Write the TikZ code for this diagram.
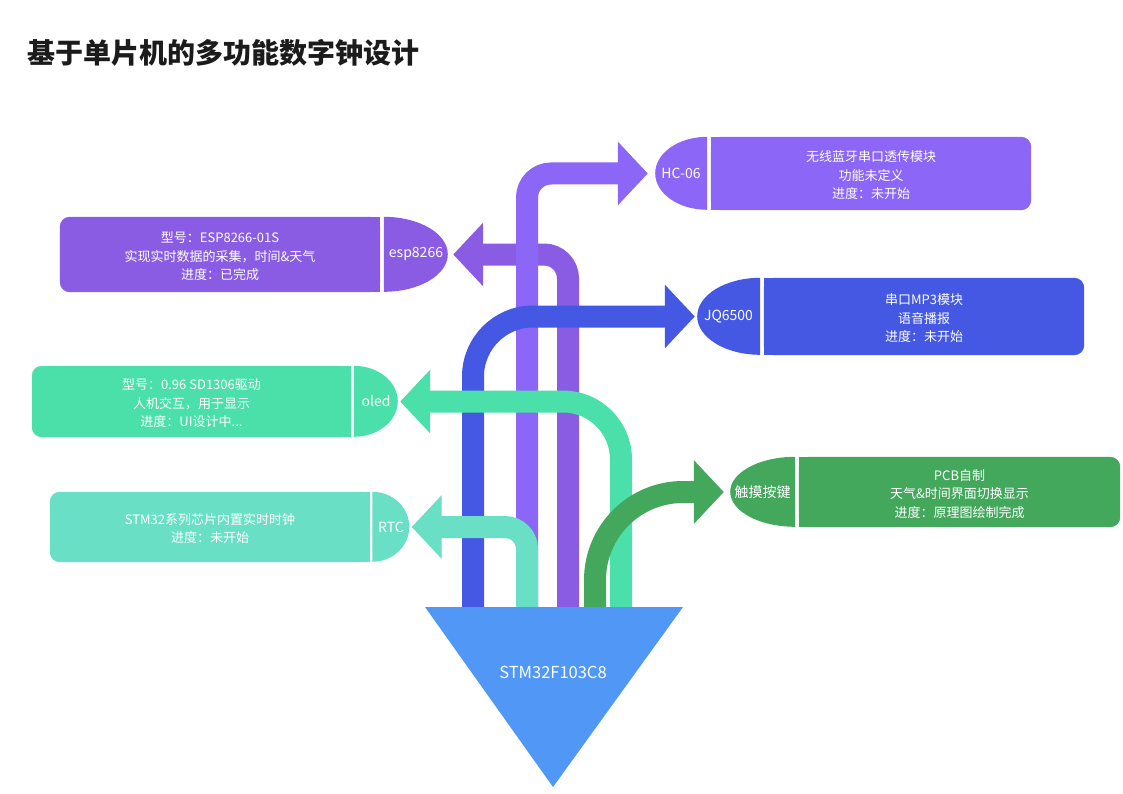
\documentclass[tikz,border=0pt]{standalone}
\usepackage{fontspec}
\setmainfont{Noto Sans CJK SC}
\usetikzlibrary{arrows.meta}
\pgfdeclarelayer{bg}
\pgfsetlayers{bg,main}
\definecolor{cHC}{HTML}{8C66F6}
\definecolor{cESP}{HTML}{8A5CE3}
\definecolor{cJQ}{HTML}{4458E3}
\definecolor{cOL}{HTML}{4BE0A9}
\definecolor{cRTC}{HTML}{69DFC6}
\definecolor{cTK}{HTML}{43A85C}
\definecolor{cCHIP}{HTML}{5197F5}
\definecolor{cTitle}{HTML}{1B1B1B}
\begin{document}
\begin{tikzpicture}[x=1pt,y=1pt,
  lbl/.style={text=white, font=\fontsize{13}{18.5}\selectfont, align=center, inner sep=0pt},
  boxlbl/.style={lbl, text depth=0pt, yshift=-1.5pt},
  caplbl/.style={lbl, font=\fontsize{14}{18.5}\selectfont},
  flow/.style={line width=22pt, -{Triangle[length=30pt,width=62pt]}, rounded corners=#1},
]
\useasboundingbox (0,0) rectangle (1123,-794);

% title
\node[anchor=west, text=cTitle, inner sep=0pt, font=\fontsize{28}{32}\bfseries\selectfont] (title) at (27,-53) {基于单片机的多功能数字钟设计};

% ---------- nodes ----------
% HC-06 (right)
\node[caplbl, minimum width=52pt, minimum height=73pt] (hc) at (681,-173.5) {HC-06};
\node[lbl, minimum width=320pt, minimum height=73pt] (hcb) at (871,-173.5) {};
\node[lbl] (hct) at ([yshift=-2pt]hcb.center) {无线蓝牙串口透传模块\\功能未定义\\进度：未开始};
% esp8266 (left)
\node[caplbl, minimum width=64pt, minimum height=75pt] (es) at (416,-254.5) {esp8266};
\node[lbl, minimum width=320pt, minimum height=75pt] (esb) at (220,-254.5) {};
\node[lbl] (est) at ([yshift=-2pt]esb.center) {型号：ESP8266-01S\\实现实时数据的采集，时间\&天气\\进度：已完成};
% JQ6500 (right)
\node[caplbl, minimum width=63pt, minimum height=77pt] (jq) at (728.5,-316.5) {JQ6500};
\node[lbl, minimum width=320pt, minimum height=77pt] (jqb) at (924,-316.5) {};
\node[lbl] (jqt) at ([yshift=-2pt]jqb.center) {串口MP3模块\\语音播报\\进度：未开始};
% oled (left)
\node[caplbl, minimum width=44pt, minimum height=71pt] (ol) at (376,-401.5) {oled};
\node[lbl, minimum width=319pt, minimum height=71pt] (olb) at (191.5,-401.5) {};
\node[lbl] (olt) at ([yshift=-2pt]olb.center) {型号：0.96 SD1306驱动\\人机交互，用于显示\\进度：UI设计中...};
% touch key (right)
\node[caplbl, minimum width=65pt, minimum height=70pt] (tk) at (762.5,-492) {触摸按键};
\node[lbl, minimum width=321pt, minimum height=70pt] (tkb) at (959.5,-492) {};
\node[lbl] (tkt) at ([yshift=-2pt]tkb.center) {PCB自制\\天气\&时间界面切换显示\\进度：原理图绘制完成};
% RTC (left)
\node[caplbl, minimum width=37pt, minimum height=70pt] (rt) at (391,-527) {RTC};
\node[lbl, minimum width=320pt, minimum height=70pt] (rtb) at (210,-527) {};
\node[lbl] (rtt) at ([yshift=-1.5pt]rtb.center) {STM32系列芯片内置实时时钟\\进度：未开始};

% ---------- shapes behind the texts ----------
\begin{pgfonlayer}{bg}
  % right-side caps
  \fill[cHC] (hc.north east) arc[start angle=90,end angle=270,x radius=52,y radius=36.5] -- cycle;
  \fill[cJQ] (jq.north east) arc[start angle=90,end angle=270,x radius=63,y radius=38.5] -- cycle;
  \fill[cTK] (tk.north east) arc[start angle=90,end angle=270,x radius=65,y radius=35] -- cycle;
  % left-side caps
  \fill[cESP] (es.north west) arc[start angle=90,end angle=-90,x radius=64,y radius=37.5] -- cycle;
  \fill[cOL] (ol.north west) arc[start angle=90,end angle=-90,x radius=44,y radius=35.5] -- cycle;
  \fill[cRTC] (rt.north west) arc[start angle=90,end angle=-90,x radius=37,y radius=35] -- cycle;
  % right-side boxes
  \fill[cHC, rounded corners=10pt] (hcb.north west) rectangle (hcb.south east);
  \fill[cHC] (hcb.north west) rectangle ([xshift=20pt]hcb.south west);
  \fill[cJQ, rounded corners=10pt] (jqb.north west) rectangle (jqb.south east);
  \fill[cJQ] (jqb.north west) rectangle ([xshift=20pt]jqb.south west);
  \fill[cTK, rounded corners=10pt] (tkb.north west) rectangle (tkb.south east);
  \fill[cTK] (tkb.north west) rectangle ([xshift=20pt]tkb.south west);
  % left-side boxes
  \fill[cESP, rounded corners=10pt] (esb.north west) rectangle (esb.south east);
  \fill[cESP] (esb.north east) rectangle ([xshift=-20pt]esb.south east);
  \fill[cOL, rounded corners=10pt] (olb.north west) rectangle (olb.south east);
  \fill[cOL] (olb.north east) rectangle ([xshift=-20pt]olb.south east);
  \fill[cRTC, rounded corners=10pt] (rtb.north west) rectangle (rtb.south east);
  \fill[cRTC] (rtb.north east) rectangle ([xshift=-20pt]rtb.south east);
\end{pgfonlayer}

% ---------- chip ----------
\coordinate (chipL) at (425,-607);
\coordinate (chipR) at (683,-607);
\coordinate (chipB) at (553,-787);
\coordinate (sJQ) at (473,-607);
\coordinate (sHC) at (527,-607);
\coordinate (sRTC) at (527,-607);
\coordinate (sESP) at (568,-607);
\coordinate (sTK) at (595,-607);
\coordinate (sOL) at (621,-607);

% ---------- connectors ----------
\draw[flow=24pt, cESP, shorten >=5pt] (sESP) |- (es.east);
\draw[flow=24pt, cHC, shorten >=7pt] (sHC) |- (hc.west);
\draw[flow=60pt, cJQ, shorten >=2pt] (sJQ) |- (jq.west);
\draw[flow=58pt, cOL, shorten >=2pt] (sOL) |- (ol.east);
\draw[flow=22pt, cRTC, shorten >=2pt] (sRTC) |- (rt.east);
\draw[flow=88pt, cTK, shorten >=6pt] (sTK) |- (tk.west);

\fill[cCHIP] (chipL) -- (chipR) -- (chipB) -- cycle;
\node[text=white, font=\fontsize{16.5}{20}\selectfont, inner sep=0pt] (chip) at (553,-672) {STM32F103C8};
\end{tikzpicture}
\end{document}
